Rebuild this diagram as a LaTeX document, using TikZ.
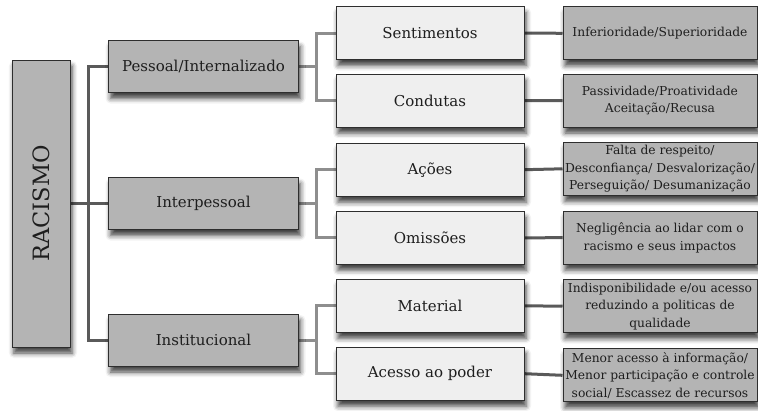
\documentclass[tikz,border=0pt]{standalone}
\usepackage{fontspec}
\setmainfont{DejaVu Serif}
\usetikzlibrary{shadows.blur,backgrounds}
\definecolor{boxdark}{HTML}{B4B4B4}
\definecolor{boxlight}{HTML}{EFEFEF}
\definecolor{edge}{HTML}{2E2E2E}
\definecolor{linedark}{HTML}{5A5A5A}
\definecolor{linelight}{HTML}{8E8E8E}
\definecolor{txt}{HTML}{1E1E1E}
\tikzset{
  shad/.style={blur shadow={shadow xshift=2pt,shadow yshift=-6pt,shadow blur radius=5pt,shadow opacity=75}},
  rootbox/.style={draw=edge,line width=1pt,fill=boxdark,shad,minimum width=58pt,minimum height=287pt,inner sep=0pt,text=txt,font=\fontsize{22.5}{26}\selectfont},
  lvone/.style={draw=edge,line width=1pt,fill=boxdark,shad,minimum width=190pt,minimum height=52pt,inner sep=0pt,text=txt,font=\fontsize{15}{18}\selectfont},
  lvtwo/.style={draw=edge,line width=1pt,fill=boxlight,shad,minimum width=188pt,minimum height=53pt,inner sep=0pt,text=txt,font=\fontsize{15}{18}\selectfont},
  lvthree/.style={draw=edge,line width=1pt,fill=boxdark,shad,minimum width=194pt,minimum height=53pt,inner sep=0pt,text=txt,align=center,font=\fontsize{12.3}{17.5}\selectfont},
  cdark/.style={draw=linedark,line width=3pt},
  clight/.style={draw=linelight,line width=3pt},
}
\begin{document}
\begin{tikzpicture}[x=1pt,y=-1pt]
\useasboundingbox (0,0) rectangle (758,410);
\node[rootbox] (root) at (41,203.5) {\rotatebox{90}{RACISMO}};
\node[lvone] (pes) at (203.5,66.5) {Pessoal/Internalizado};
\node[lvone] (int) at (203.5,203.5) {Interpessoal};
\node[lvone] (ins) at (203.5,340) {Institucional};
\node[lvtwo] (sen) at (430,33) {Sentimentos};
\node[lvtwo] (con) at (430,100.7) {Condutas};
\node[lvtwo] (aco) at (430,169.7) {Ações};
\node[lvtwo] (omi) at (430,237.8) {Omissões};
\node[lvtwo] (mat) at (430,305.8) {Material};
\node[lvtwo] (ace) at (430,373.7) {Acesso ao poder};
\node[lvthree] (tsen) at (660,33.3) {Inferioridade/Superioridade};
\node[lvthree] (tcon) at (660,100.5) {Passividade/Proatividade\\Aceitação/Recusa};
\node[lvthree] (taco) at (660,168.8) {Falta de respeito/\\Desconfiança/ Desvalorização/\\Perseguição/ Desumanização};
\node[lvthree] (tomi) at (660,237.7) {Negligência ao lidar com o\\racismo e seus impactos};
\node[lvthree] (tmat) at (660,306.2) {Indisponibilidade e/ou acesso\\reduzindo a politicas de\\qualidade};
\node[lvthree] (tace) at (660,375.3) {Menor acesso à informação/\\Menor participação e controle\\social/ Escassez de recursos};
\coordinate (b1) at (88.5,0);
\coordinate (b2) at (316.5,0);
\begin{scope}[on background layer]
\draw[cdark] (root.east) -- (int.west);
\draw[cdark] (pes.west) -- (pes.west -| b1) -- (ins.west -| b1) -- (ins.west);
\draw[clight] (pes.east) -- (pes.east -| b2);
\draw[clight] (sen.west) -- (sen.west -| b2) -- (con.west -| b2) -- (con.west);
\draw[clight] (int.east) -- (int.east -| b2);
\draw[clight] (aco.west) -- (aco.west -| b2) -- (omi.west -| b2) -- (omi.west);
\draw[clight] (ins.east) -- (ins.east -| b2);
\draw[clight] (mat.west) -- (mat.west -| b2) -- (ace.west -| b2) -- (ace.west);
\draw[cdark] (sen.east) -- (tsen.west);
\draw[cdark] (con.east) -- (tcon.west);
\draw[cdark] (aco.east) -- (taco.west);
\draw[cdark] (omi.east) -- (tomi.west);
\draw[cdark] (mat.east) -- (tmat.west);
\draw[cdark] (ace.east) -- (tace.west);
\end{scope}
\end{tikzpicture}
\end{document}
